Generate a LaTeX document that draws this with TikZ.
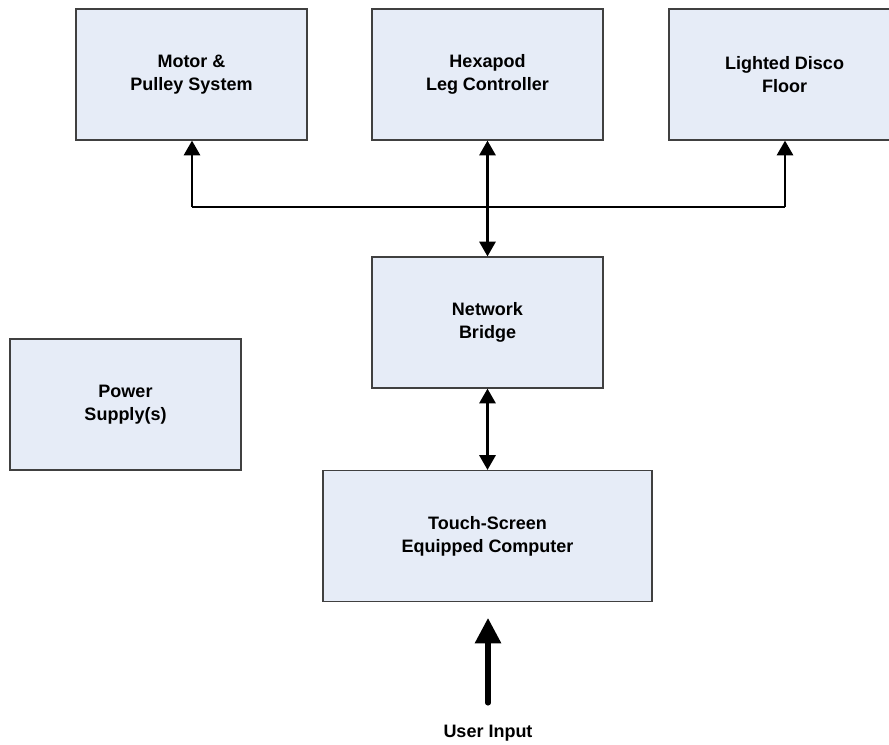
\documentclass[tikz,border=0pt]{standalone}
\usepackage{fontspec}
\setmainfont{Liberation Sans}
\usetikzlibrary{arrows.meta}
\definecolor{boxfill}{RGB}{230,236,247}
\definecolor{boxline}{RGB}{64,64,64}
\tikzset{
  blk/.style={draw=boxline, line width=0.9pt, fill=boxfill, minimum width=173.25pt, minimum height=98.25pt,
    align=center, font=\fontsize{13.5pt}{17pt}\selectfont\bfseries, inner sep=0pt},
  link/.style={line width=2pt, black},
  tip/.style={-{Triangle[width=12pt,length=11pt]}},
  dtip/.style={{Triangle[width=12pt,length=11pt]}-{Triangle[width=12pt,length=11pt]}},
  bigtip/.style={line width=3.8pt, line cap=round, -{Triangle[width=19pt,length=19pt]}},
  lbl/.style={font=\fontsize{13.5pt}{17pt}\selectfont\bfseries, inner sep=0pt}
}
\begin{document}
\begin{tikzpicture}[x=0.75pt,y=-0.75pt]
\useasboundingbox (0,0) rectangle (889,744);
\node[blk] (motor) at (191.5,74.5) {Motor \&\\Pulley System};
\node[blk] (hexa) at (487.5,74.5) {Hexapod\\Leg Controller};
\node[blk] (disco) at (784.5,74.5) {Lighted Disco\\Floor};
\node[blk] (net) at (487.5,322.5) {Network\\Bridge};
\node[blk] (power) at (125.5,404.5) {Power\\Supply(s)};
\node[blk, minimum width=246.75pt] (touch) at (487.5,536) {Touch-Screen\\Equipped Computer};
\node[lbl] (user) at (488,733) {User Input};
\coordinate (bl) at (192,207);
\coordinate (br) at (785,207);
\coordinate (ubot) at (488,703);
\coordinate (utop) at (488,618);
\draw[link] (bl) -- (br);
\draw[link,tip] (bl) -- (bl |- motor.south);
\draw[link,tip] (br) -- (br |- disco.south);
\draw[link,dtip] (hexa.south) -- (net.north);
\draw[link,dtip] (net.south) -- (touch.north);
\draw[bigtip] (ubot) -- (utop);
\end{tikzpicture}
\end{document}
